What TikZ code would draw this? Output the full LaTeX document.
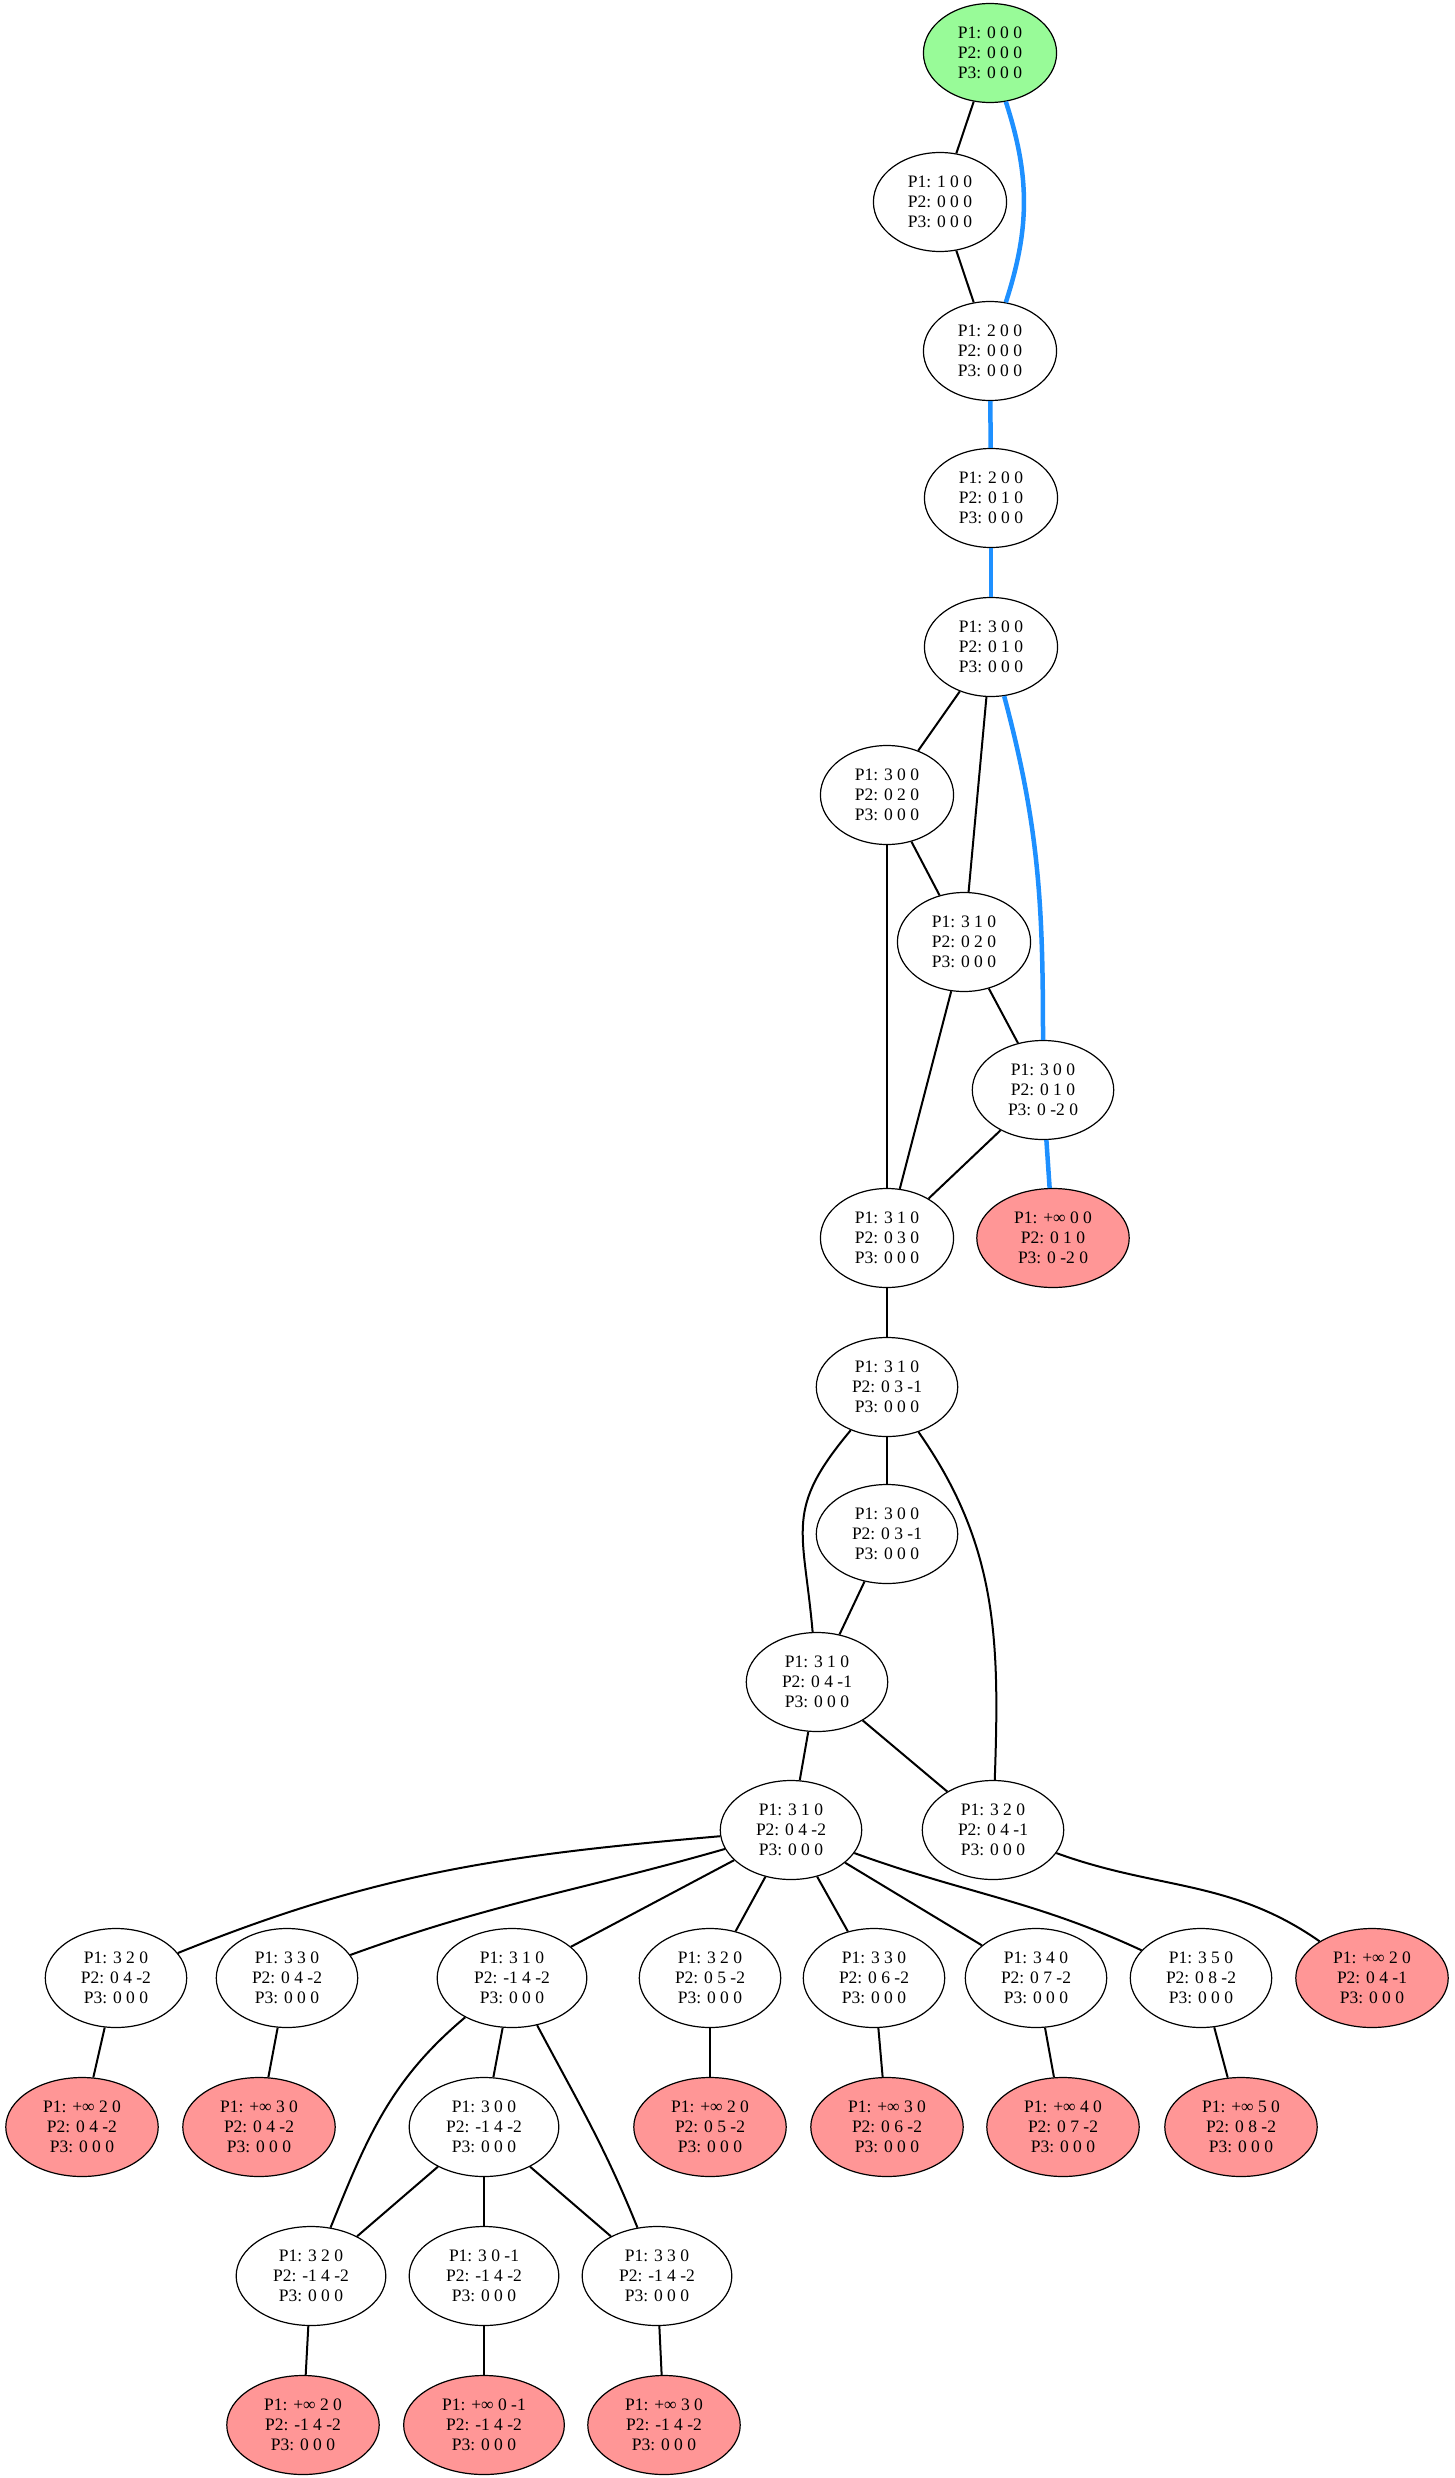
\documentclass[tikz,border=0pt]{standalone}
\usepackage{fontspec}
\setmainfont{Liberation Serif}
\usetikzlibrary{shapes.geometric}
\definecolor{initgreen}{RGB}{152,251,152}
\definecolor{deadred}{RGB}{255,150,150}
\definecolor{traceblue}{RGB}{30,144,255}
\tikzset{
  st/.style={ellipse,draw,line width=1.2pt,fill=white,align=center,
    inner xsep=15pt,inner ysep=3pt,minimum width=130pt,minimum height=99pt,
    font=\fontsize{17.5}{20}\selectfont},
  init/.style={st,fill=initgreen},
  dead/.style={st,fill=deadred},
  link/.style={line width=2pt},
  trace/.style={line width=4.5pt,traceblue}
}
\begin{document}
\begin{tikzpicture}[x=1pt,y=-1pt]
\useasboundingbox (0,0) rectangle (1454,2478);
%top chain
\node[init] (s0) at (990,53) {P1: 0 0 0\\P2: 0 0 0\\P3: 0 0 0};
\node[st] (s1) at (940,202) {P1: 1 0 0\\P2: 0 0 0\\P3: 0 0 0};
\node[st] (s2) at (990,351) {P1: 2 0 0\\P2: 0 0 0\\P3: 0 0 0};
\node[st] (s3) at (991,498) {P1: 2 0 0\\P2: 0 1 0\\P3: 0 0 0};
\node[st] (s4) at (991,647) {P1: 3 0 0\\P2: 0 1 0\\P3: 0 0 0};
\node[st] (s5) at (887,795) {P1: 3 0 0\\P2: 0 2 0\\P3: 0 0 0};
\node[st] (s6) at (964,942) {P1: 3 1 0\\P2: 0 2 0\\P3: 0 0 0};
\node[st] (s7) at (1043,1090) {P1: 3 0 0\\P2: 0 1 0\\P3: 0 -2 0};
\node[st] (s8) at (887,1238) {P1: 3 1 0\\P2: 0 3 0\\P3: 0 0 0};
\node[dead] (s9) at (1053,1238) {P1: +∞ 0 0\\P2: 0 1 0\\P3: 0 -2 0};
\node[st] (s10) at (887,1387) {P1: 3 1 0\\P2: 0 3 -1\\P3: 0 0 0};
\node[st] (s11) at (887,1534) {P1: 3 0 0\\P2: 0 3 -1\\P3: 0 0 0};
\node[st] (s12) at (817,1682) {P1: 3 1 0\\P2: 0 4 -1\\P3: 0 0 0};
\node[st] (s13) at (791,1830) {P1: 3 1 0\\P2: 0 4 -2\\P3: 0 0 0};
\node[st] (s14) at (993,1830) {P1: 3 2 0\\P2: 0 4 -1\\P3: 0 0 0};
%fan out
\node[st] (s15) at (116,1978) {P1: 3 2 0\\P2: 0 4 -2\\P3: 0 0 0};
\node[st] (s16) at (287,1978) {P1: 3 3 0\\P2: 0 4 -2\\P3: 0 0 0};
\node[st] (s17) at (512,1978) {P1: 3 1 0\\P2: -1 4 -2\\P3: 0 0 0};
\node[st] (s18) at (710,1978) {P1: 3 2 0\\P2: 0 5 -2\\P3: 0 0 0};
\node[st] (s19) at (874,1978) {P1: 3 3 0\\P2: 0 6 -2\\P3: 0 0 0};
\node[st] (s20) at (1036,1978) {P1: 3 4 0\\P2: 0 7 -2\\P3: 0 0 0};
\node[st] (s21) at (1201,1978) {P1: 3 5 0\\P2: 0 8 -2\\P3: 0 0 0};
\node[dead] (s22) at (1372,1978) {P1: +∞ 2 0\\P2: 0 4 -1\\P3: 0 0 0};
\node[dead] (s23) at (82,2127) {P1: +∞ 2 0\\P2: 0 4 -2\\P3: 0 0 0};
\node[dead] (s24) at (259,2127) {P1: +∞ 3 0\\P2: 0 4 -2\\P3: 0 0 0};
\node[st] (s25) at (484,2127) {P1: 3 0 0\\P2: -1 4 -2\\P3: 0 0 0};
\node[dead] (s26) at (710,2127) {P1: +∞ 2 0\\P2: 0 5 -2\\P3: 0 0 0};
\node[dead] (s27) at (887,2127) {P1: +∞ 3 0\\P2: 0 6 -2\\P3: 0 0 0};
\node[dead] (s28) at (1063,2127) {P1: +∞ 4 0\\P2: 0 7 -2\\P3: 0 0 0};
\node[dead] (s29) at (1241,2127) {P1: +∞ 5 0\\P2: 0 8 -2\\P3: 0 0 0};
%bottom
\node[st] (s30) at (311,2276) {P1: 3 2 0\\P2: -1 4 -2\\P3: 0 0 0};
\node[st] (s31) at (484,2276) {P1: 3 0 -1\\P2: -1 4 -2\\P3: 0 0 0};
\node[st] (s32) at (657,2276) {P1: 3 3 0\\P2: -1 4 -2\\P3: 0 0 0};
\node[dead] (s33) at (303,2425) {P1: +∞ 2 0\\P2: -1 4 -2\\P3: 0 0 0};
\node[dead] (s34) at (484,2425) {P1: +∞ 0 -1\\P2: -1 4 -2\\P3: 0 0 0};
\node[dead] (s35) at (664,2425) {P1: +∞ 3 0\\P2: -1 4 -2\\P3: 0 0 0};

\draw[link] (s0) -- (s1);
\draw[trace] (s0) to[out=-72,in=72] (s2);
\draw[link] (s1) -- (s2);
\draw[trace] (s2) -- (s3);
\draw[trace] (s3) -- (s4);
\draw[link] (s4) -- (s5);
\draw[link] (s4) -- (s6);
\draw[trace] (s4) to[out=-75,in=90] (s7);
\draw[link] (s5) -- (s6);
\draw[link] (s5) -- (s8);
\draw[link] (s6) -- (s7);
\draw[link] (s6) -- (s8);
\draw[link] (s7) -- (s8);
\draw[trace] (s7) -- (s9);
\draw[link] (s8) -- (s10);
\draw[link] (s10) -- (s11);
\draw[link] (s10) to[out=-130,in=95,looseness=1.3] (s12);
\draw[link] (s10) to[out=-55,in=88] (s14);
\draw[link] (s11) -- (s12);
\draw[link] (s12) -- (s13);
\draw[link] (s12) -- (s14);
\draw[link] (s13) to[out=-175,in=22] (s15);
\draw[link] (s13) to[out=-164,in=20] (s16);
\draw[link] (s13) -- (s17);
\draw[link] (s13) -- (s18);
\draw[link] (s13) -- (s19);
\draw[link] (s13) -- (s20);
\draw[link] (s13) to[out=-20,in=155] (s21);
\draw[link] (s14) to[out=-20,in=145] (s22);
\draw[link] (s15) -- (s23);
\draw[link] (s16) -- (s24);
\draw[link] (s17) -- (s25);
\draw[link] (s18) -- (s26);
\draw[link] (s19) -- (s27);
\draw[link] (s20) -- (s28);
\draw[link] (s21) -- (s29);
\draw[link] (s17) to[out=-140,in=68] (s30);
\draw[link] (s17) to[out=-62,in=112] (s32);
\draw[link] (s25) -- (s30);
\draw[link] (s25) -- (s31);
\draw[link] (s25) -- (s32);
\draw[link] (s30) -- (s33);
\draw[link] (s31) -- (s34);
\draw[link] (s32) -- (s35);
\end{tikzpicture}
\end{document}
